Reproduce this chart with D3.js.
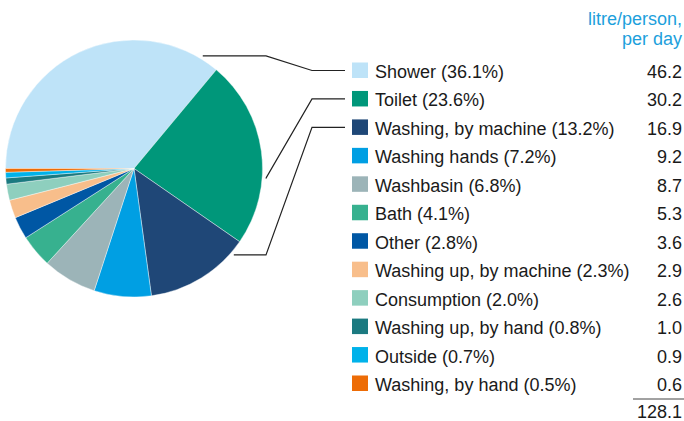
<!DOCTYPE html>
<html>
<head>
<meta charset="utf-8">
<script src="https://cdn.jsdelivr.net/npm/d3@7"></script>
<style>
  html, body { margin: 0; padding: 0; background: #fff; }
  svg { display: block; font-family: "Liberation Sans", Arial, sans-serif; }
</style>
</head>
<body>
<svg></svg>
<script>
// data
const categories = [
  'Shower', 'Toilet', 'Washing, by machine', 'Washing hands', 'Washbasin',
  'Bath', 'Other', 'Washing up, by machine', 'Consumption',
  'Washing up, by hand', 'Outside', 'Washing, by hand'
];
const litres = [46.2, 30.2, 16.9, 9.2, 8.7, 5.3, 3.6, 2.9, 2.6, 1.0, 0.9, 0.6];
const shares = ['36.1', '23.6', '13.2', '7.2', '6.8', '4.1', '2.8', '2.3', '2.0', '0.8', '0.7', '0.5'];
const colours = [
  '#bee3f8', '#00977a', '#1f4777', '#009fe3', '#9cb4b8', '#37b18f',
  '#0057a4', '#f8be8b', '#8ecfbe', '#1b7a80', '#00b2ea', '#ed6c06'
];
const headerLines = ['litre/person,', 'per day'];
const totalLabel = '128.1';

// setup
const width = 684;
const height = 421;
const svg = d3.select('svg').attr('width', width).attr('height', height);

const cx = 134;
const cy = 168.5;
const radius = 128.5;
const fontSize = 18;

// pie starts at 9 o'clock and runs clockwise
const pie = d3.pie()
  .sort(null)
  .startAngle(-Math.PI / 2)
  .endAngle(3 * Math.PI / 2);

const arcs = pie(litres);
const arc = d3.arc().innerRadius(0).outerRadius(radius);

const pieG = svg.append('g').attr('transform', 'translate(' + cx + ',' + cy + ')');
pieG.selectAll('path')
  .data(arcs)
  .enter()
  .append('path')
  .attr('d', arc)
  .attr('fill', function (d, i) { return colours[i]; })
  .attr('stroke', '#fff')
  .attr('stroke-width', 0.4);

// legend rows
const rowY = d3.scalePoint()
  .domain(d3.range(categories.length))
  .range([78, 391]);

const swatchX = 352;
const textX = 375;
const valueX = 682;

const rows = svg.selectAll('g.row')
  .data(categories)
  .enter()
  .append('g')
  .attr('class', 'row')
  .attr('transform', function (d, i) { return 'translate(0,' + rowY(i) + ')'; });

rows.append('rect')
  .attr('x', swatchX)
  .attr('y', -15.5)
  .attr('width', 16)
  .attr('height', 15.5)
  .attr('fill', function (d, i) { return colours[i]; });

rows.append('text')
  .attr('x', textX)
  .attr('font-size', fontSize)
  .attr('fill', '#1a1a1a')
  .text(function (d, i) { return d + ' (' + shares[i] + '%)'; });

rows.append('text')
  .attr('x', valueX)
  .attr('text-anchor', 'end')
  .attr('font-size', fontSize)
  .attr('fill', '#1a1a1a')
  .text(function (d, i) { return litres[i].toFixed(1); });

// header
svg.append('text')
  .attr('text-anchor', 'end')
  .attr('font-size', fontSize)
  .attr('fill', '#1d9fdc')
  .selectAll('tspan')
  .data(headerLines)
  .enter()
  .append('tspan')
  .attr('x', valueX)
  .attr('y', function (d, i) { return 25 + i * 20; })
  .text(function (d) { return d; });

// total
const lastY = rowY(categories.length - 1);
svg.append('line')
  .attr('x1', 633).attr('x2', 684)
  .attr('y1', lastY + 8).attr('y2', lastY + 8)
  .attr('stroke', '#444')
  .attr('stroke-width', 1);

svg.append('text')
  .attr('x', valueX)
  .attr('y', lastY + 27)
  .attr('text-anchor', 'end')
  .attr('font-size', fontSize)
  .attr('fill', '#1a1a1a')
  .text(totalLabel);

// leader lines for the three biggest slices (angle along each slice, 0..1)
const leaderAt = [0.935, 0.64, 0.13];
const elbowX1 = 266;
const elbowX2 = 312;
const leaderEndX = 345;

leaderAt.forEach(function (t, i) {
  const a = arcs[i].startAngle + t * (arcs[i].endAngle - arcs[i].startAngle);
  const p = d3.pointRadial(a, radius + 3.5);
  const sx = cx + p[0];
  const sy = cy + p[1];
  const ty = rowY(i) - 7.5;
  const pts = [[sx, sy], [elbowX1, sy], [elbowX2, ty], [leaderEndX, ty]];
  svg.append('path')
    .attr('d', d3.line()(pts))
    .attr('fill', 'none')
    .attr('stroke', '#222')
    .attr('stroke-width', 1.2);
});
</script>
</body>
</html>
